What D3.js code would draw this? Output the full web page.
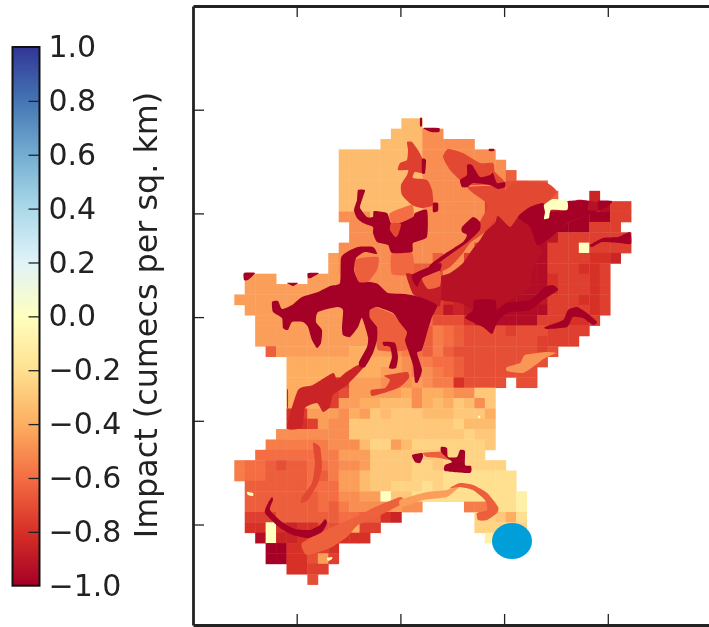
<!DOCTYPE html>
<html><head><meta charset="utf-8">
<script src="https://cdnjs.cloudflare.com/ajax/libs/d3/7.8.5/d3.min.js"></script>
<style>html,body{margin:0;padding:0;background:#fff;overflow:hidden}svg{display:block;filter:blur(.55px)}text{font-family:"DejaVu Sans";fill:#222}</style>
</head><body><svg id="c" width="709" height="627"></svg>
<script>
// impact level per letter: a=0, b=-0.05 ... u=-1
const levelKey = "abcdefghijklmnopqrstu";
const colorStops = ["#a50026","#d73027","#f46d43","#fdae61","#fee090","#ffffbf","#e0f3f8","#abd9e9","#74add1","#4575b4","#313695"];
const colorTicks = [-1,-0.8,-0.6,-0.4,-0.2,0,0.2,0.4,0.6,0.8,1];
const axisTicksX = [103.7,207.4,311.1,414.8];
const axisTicksY = [103.7,207.4,311.1,414.8,518.5];
const cbarLabel = "Impact (cumecs per sq. km)";
const rasterRows = [
".......... ......hh.. .......... ........",
".......... .....hhhkk .......... ........",
".......... ....hhhhkk kkk....... ........",
".......... hhhhhhhhkk kkkkk..... ........",
".......... hhhhhhhhkk kkkkkk.... ........",
".......... hhhhhhhhkk kkkkkkn... ........",
".......... hhhhhhhhkk kkkkkkoonn ........",
".......... hhhhhhhhkk kkkkkkoooo n...r...",
".......... hhhhhhhhkk kkkkppoopp ssuuqtpp",
".......... kkkhhhhhkk kkkkppppqr uuuuuupp",
".......... .kkkkkkkkk kkkkpppqst tuuuppp.",
".......... .kkkkkkkkk kkkkpqrsss sppppppp",
".......... kkkkkkkkkk kkkppqrsst pppapppp",
".........j kkkkkkkkkn kkpppqrstt ppppqqr.",
".........j kkkkkkknnn kkpqrstttt pppqqp..",
".jjj...jjj jkkkkkkkno kpqrsstttt qpppqp..",
".jjjjjjjjj jkkkkkkkoo pqrssttttt qpppqp..",
"jjjjjjjjjj jjjjjjjkop qrssttttts pppqqp..",
".jjjjjjjjj jjjjjjjklp srsttttttt ppppqp..",
"..jjjjjjjj jjjjjjkkmo ooqstttttp ppqqp...",
"..jjjjjjjj jjjjjjkmnl mnoooopooo pppp....",
"..jjjjjjjj jjjjjjkmnl mnooooooop ppp.....",
"...njjjjjj jiijjklmnl noooooooop o.......",
".....iiiii iiiiijkllm mnoooooooo ........",
".....iiiii iiiijjklkl mnooooooo. ........",
".....iiiiq pjjjkkkjkl lqoooo.oo. ........",
".....iiiip ojjjjjikii jkkgg..... ........",
".....iiiip jjiihhhkih ighkg..... ........",
".....qpjjj kijghggghh hgggi..... ........",
".....qqpjk kggggggggg gfhhh..... ........",
"....kkkkkk kggggggggg ggfgg..... ........",
"...llllllk kkhffjhfff ffffg..... ........",
"..mmmmmmll jjjggggggg ffff...... ........",
"lmmnonnmml kkjggggffg ffffff.... ........",
"lmmnnnnmnl jjhggggfff eeeeeee... ........",
".nnnnnnmmm jjhggfffef eeeeeee... ........",
".nnnnnnnmm kkjjaggeee eeeeeeec.. ........",
".nnnnnnnmn lkkkkjkk.. ..llleec.. ........",
".pppnnnnnn mmnnqr.... ...ffgie.. ........",
".qqaqrqqoo nipp...... ...fffff.. ........",
"..tarrqqqq qqq....... ....c..... ........",
"...uuqqppq .......... .......... ........",
"...uuqqojp .......... .......... ........",
".....qqpp. .......... .......... ........",
".......o.. .......... .......... ........"
];
// traced zones: [impact, [map x, map y]...]
const zones = [
[-0.65,[[161,254],[185,251],[184,264],[174,277],[165,276]]],
[-0.62,[[199,247],[219,247],[220,268],[199,268]]],
[-0.75,[[214,136],[219,136],[225,144],[230,154],[232,167],[222,166],[220,172],[234,174],[239,184],[240,199],[229,202],[219,199],[209,189],[208,179],[214,169],[215,164],[205,164],[207,157],[214,154],[215,144]]],
[-0.6,[[197,207],[219,199],[220,211],[207,217],[198,216]]],
[-0.72,[[250,151],[255,143],[270,147],[287,157],[300,157],[302,166],[312,176],[312,184],[305,184],[295,179],[274,179],[267,174],[257,164]]],
[-0.72,[[275,181],[297,180],[312,184],[322,176],[352,176],[364,186],[350,199],[337,201],[317,221],[305,210],[292,226],[277,237],[270,247],[257,261],[237,271],[237,263],[254,251],[275,236],[287,224],[287,216],[295,199],[280,187]]],
[-0.93,[[237,274],[257,267],[270,257],[279,244],[287,234],[292,226],[302,217],[305,210],[317,221],[325,211],[337,201],[347,199],[352,207],[364,206],[374,204],[384,194],[407,196],[419,196],[410,202],[394,209],[375,217],[364,226],[352,236],[345,237],[350,247],[344,252],[339,267],[337,281],[327,289],[314,296],[302,304],[292,309],[280,304],[267,297],[247,294],[237,287]]],
[-0.88,[[213,268],[222,268],[247,263],[247,300],[229,292],[220,288]]],
[-0.62,[[229,272],[247,265],[247,280],[235,283]]],
[-0.65,[[182,301],[200,308],[207,317],[214,326],[214,344],[185,344],[184,321],[177,312],[177,304]]],
[-0.47,[[314,361],[327,357],[332,349],[352,346],[363,347],[354,351],[349,354],[344,358],[330,367],[314,365]]],
[-0.85,[[165,359],[170,362],[154,379],[140,389],[137,401],[130,406],[124,397],[112,402],[109,421],[94,422],[105,384],[120,379],[140,367],[144,374],[152,367]]],
[-0.72,[[120,437],[127,441],[129,461],[125,477],[115,494],[108,497],[109,491],[119,477],[122,457]]],
[-0.64,[[109,537],[137,522],[167,509],[180,502],[207,491],[210,497],[184,511],[165,519],[154,531],[137,542],[114,549]]],
[-0.45,[[207,494],[234,486],[254,484],[267,477],[280,479],[294,487],[305,501],[304,507],[294,514],[285,514],[284,507],[294,504],[292,494],[280,484],[267,481],[254,491],[230,494],[209,501]]],
[-0.65,[[257,482],[267,477],[280,479],[294,487],[305,501],[304,507],[294,514],[285,514],[284,507],[294,504],[292,494],[280,484],[267,481]]],
[-0.65,[[230,447],[248,446],[257,454],[247,452],[234,451]]],
[-0.75,[[194,369],[214,366],[216,372],[207,381],[194,386],[179,390],[178,384],[192,382],[197,374],[191,370]]],
[-1,[[79,296],[85,295],[89,303],[99,299],[109,291],[125,286],[137,280],[147,277],[148,252],[154,246],[165,241],[180,241],[184,248],[172,246],[163,252],[161,264],[166,276],[177,276],[185,278],[195,287],[212,288],[227,291],[244,299],[239,311],[234,327],[229,344],[224,347],[229,364],[225,376],[222,376],[220,359],[214,341],[212,334],[214,326],[207,317],[200,307],[184,301],[177,304],[177,312],[184,321],[184,334],[180,347],[172,361],[167,361],[166,356],[174,341],[175,331],[169,312],[165,321],[157,331],[150,329],[149,321],[150,304],[144,301],[125,306],[123,316],[129,324],[128,337],[124,342],[119,334],[115,321],[110,316],[99,316],[95,324],[90,322],[89,312],[80,306]]],
[-1,[[190,336],[202,337],[205,351],[203,362],[196,362],[199,351],[197,341],[191,340]]],
[-1,[[165,184],[172,184],[170,191],[168,197],[167,202],[174,211],[180,211],[181,205],[194,207],[198,217],[207,217],[220,211],[222,207],[234,204],[234,231],[220,237],[219,246],[199,247],[195,239],[184,236],[180,227],[180,221],[170,217],[164,212],[161,204],[164,194]]],
[-0.72,[[198,217],[208,218],[205,229],[202,231],[197,224]]],
[-1,[[229,153],[233,154],[232,167],[229,167]]],
[-1,[[240,197],[245,197],[245,205],[240,206]]],
[-1,[[219,269],[247,257],[247,264],[229,272],[224,281]]],
[-1,[[274,159],[279,159],[287,171],[297,169],[300,167],[304,177],[312,176],[312,181],[305,183],[297,179],[280,177],[275,181],[269,181],[267,174],[274,169]]],
[-1,[[269,221],[280,211],[287,216],[287,224],[275,236],[254,251],[237,263],[237,259],[250,249],[270,236],[274,229],[269,226]]],
[-1,[[325,211],[337,201],[350,197],[354,206],[375,204],[375,195],[395,195],[395,204],[405,204],[405,195],[419,195],[414,201],[394,209],[375,216],[364,226],[352,236],[344,239],[337,221]]],
[-1,[[272,312],[280,304],[282,294],[302,294],[304,304],[314,297],[337,294],[352,281],[360,279],[365,284],[350,294],[337,304],[314,307],[304,317],[299,328],[290,321]]],
[-1,[[397,239],[410,232],[425,231],[437,226],[438,238],[427,237],[409,236],[399,241]]],
[-1,[[352,321],[370,314],[375,304],[384,301],[394,307],[404,316],[400,319],[390,312],[380,311],[374,321],[354,323]]],
[-1,[[79,491],[80,494],[77,504],[89,516],[102,523],[117,524],[127,519],[132,513],[134,517],[129,526],[115,532],[100,529],[87,522],[72,507],[75,497]]],
[-1,[[219,449],[229,447],[230,451],[227,457],[222,456]]],
[-1,[[248,441],[254,442],[255,451],[264,451],[267,444],[272,445],[272,459],[278,460],[277,467],[252,465],[252,459],[259,456],[253,451],[248,446]]],
[-1,[[51,267],[62,267],[55,274],[51,274]]],
[-1,[[94,277],[105,277],[100,280]]],
[-1,[[115,267],[126,267],[118,272],[115,272]]],
[-1,[[227,112],[229,112],[229,120],[227,120]]],
[-1,[[230,122],[246,122],[246,126],[238,126]]],
[-1,[[296,143],[301,143],[301,145],[296,145]]],
[-0.85,[[94,384],[95,384],[95,401],[94,401]]],
[0,[[351,199],[360,193],[374,195],[374,204],[358,204],[356,212],[351,213],[352,206]]],
[0,[[54,486],[60,487],[60,490],[55,489]]],
[0,[[134,552],[139,551],[139,553],[135,555]]],
[0,[[285,410],[287,410],[287,412],[285,412]]]
];
const gaugePoint = [319,535];

const svg=d3.select("#c");
const color=d3.scaleLinear().domain(colorTicks).range(colorStops).clamp(true);
const x=d3.scaleLinear().domain([0,519]).range([193,712]);
const y=d3.scaleLinear().domain([0,619]).range([6,625]);
const rows=rasterRows.map(r=>r.replace(/ /g,""));
const gx0=41.3,gdx=10.44,gy0=112.3,gdy=10.36;
const cells=[];
rows.forEach((r,j)=>[...r].forEach((c,i)=>{const k=levelKey.indexOf(c);if(k>=0)cells.push({i,j,v:-k*0.05});}));
const map=svg.append("g");
map.selectAll("rect").data(cells).join("rect")
 .attr("x",d=>x(gx0+d.i*gdx)).attr("y",d=>y(gy0+d.j*gdy))
 .attr("width",x(gdx)-x(0)+.4).attr("height",y(gdy)-y(0)+.4)
 .attr("fill",d=>color(d.v));
const line=d3.line().x(d=>x(d[0])).y(d=>y(d[1])).curve(d3.curveCardinalClosed.tension(0.45));
map.selectAll("path").data(zones).join("path").attr("d",d=>line(d[1])).attr("fill",d=>color(d[0]));
svg.append("ellipse").attr("cx",x(gaugePoint[0])).attr("cy",y(gaugePoint[1])).attr("rx",20).attr("ry",18).attr("fill","#009fda");

// frame + axes
const ink="#222";
const mk=(a,t)=>{const g=svg.append("g").attr("transform",t).call(a);g.selectAll("text").remove();g.selectAll("line").attr("stroke",ink).attr("stroke-width",1.3);g.select(".domain").attr("stroke",ink).attr("stroke-width",2.8);return g;};
mk(d3.axisLeft(y).tickValues(axisTicksY).tickSize(-11).tickSizeOuter(0),`translate(${x(0)},0)`);
mk(d3.axisTop(x).tickValues(axisTicksX).tickSize(-11).tickSizeOuter(0),`translate(0,${y(0)})`);
mk(d3.axisBottom(x).tickValues(axisTicksX).tickSize(-11).tickSizeOuter(0),`translate(0,${y(619)})`);

// colorbar
const cy=d3.scaleLinear().domain([-1,1]).range([585.7,47]);
const defs=svg.append("defs");
const lg=defs.append("linearGradient").attr("id","cb").attr("x1",0).attr("x2",0).attr("y1",1).attr("y2",0);
colorTicks.forEach((t,i)=>lg.append("stop").attr("offset",i/10).attr("stop-color",colorStops[i]));
svg.append("rect").attr("x",12.5).attr("y",47).attr("width",27).attr("height",538.7).attr("fill","url(#cb)").attr("stroke","#111").attr("stroke-width",2);
const cax=d3.axisRight(cy).tickValues(colorTicks).tickSize(0).tickPadding(9).tickFormat(d3.format(".1f"));
const cg=svg.append("g").attr("transform","translate(39.5,0)").call(cax);
cg.select(".domain").remove();
cg.selectAll("text").attr("font-family","DejaVu Sans").attr("font-size",30).attr("fill",ink);
cg.selectAll("g.tick").append("line").attr("x1",-11).attr("x2",0).attr("stroke",d=>Math.abs(d)==1?"none":ink).attr("stroke-width",1.3);
svg.append("text").attr("transform","translate(157,315) rotate(-90)").attr("text-anchor","middle").attr("font-size",31.8).text(cbarLabel);
</script></body></html>
